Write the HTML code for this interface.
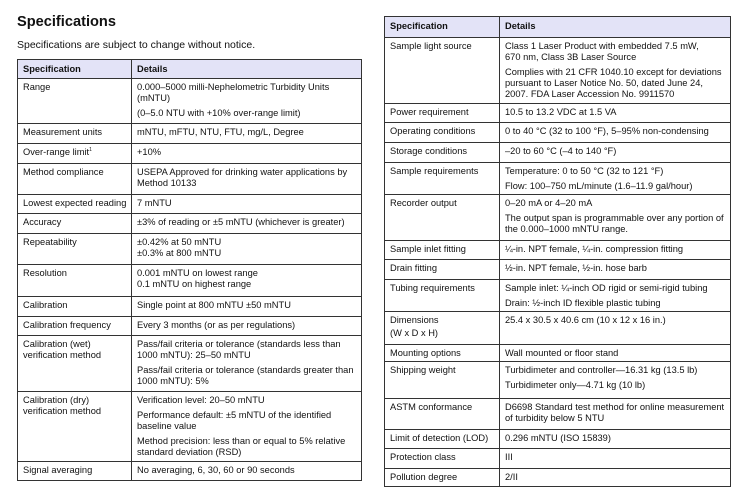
<!DOCTYPE html>
<html><head><style>
body{margin:0;width:733px;height:491px;background:#fff;font-family:"Liberation Sans",sans-serif;color:#111;position:relative;overflow:hidden}
h1{position:absolute;left:17px;top:14px;margin:0;font-size:14.6px;font-weight:bold}
.sub{position:absolute;left:17px;top:39px;font-size:10.5px}
table{position:absolute;border-collapse:collapse;table-layout:fixed;font-size:9.3px;line-height:11px;border:1.6px solid #222}
td{border:1px solid #333;vertical-align:top;padding:3px 4px 0 5px;overflow:hidden;white-space:nowrap}
tr.h td{background:#e3e3f7;font-weight:bold;padding-top:4px}
p{margin:0 0 4px 0}
p:last-child{margin-bottom:0}
</style></head><body>
<h1>Specifications</h1>
<div class="sub">Specifications are subject to change without notice.</div>

<table style="left:17px;top:59px;width:345px">
<colgroup><col style="width:114px"><col></colgroup>
<tr class="h" style="height:19px"><td>Specification</td><td>Details</td></tr>
<tr style="height:45px"><td>Range</td><td><p>0.000–5000 milli-Nephelometric Turbidity Units<br>(mNTU)</p><p>(0–5.0 NTU with +10% over-range limit)</p></td></tr>
<tr style="height:20px"><td>Measurement units</td><td>mNTU, mFTU, NTU, FTU, mg/L, Degree</td></tr>
<tr style="height:20px"><td>Over-range limit<sup style="font-size:5px;line-height:0">1</sup></td><td>+10%</td></tr>
<tr style="height:31px"><td>Method compliance</td><td>USEPA Approved for drinking water applications by<br>Method 10133</td></tr>
<tr style="height:19px"><td>Lowest expected reading</td><td>7 mNTU</td></tr>
<tr style="height:20px"><td>Accuracy</td><td>±3% of reading or ±5 mNTU (whichever is greater)</td></tr>
<tr style="height:31px"><td>Repeatability</td><td>±0.42% at 50 mNTU<br>±0.3% at 800 mNTU</td></tr>
<tr style="height:32px"><td>Resolution</td><td>0.001 mNTU on lowest range<br>0.1 mNTU on highest range</td></tr>
<tr style="height:20px"><td>Calibration</td><td>Single point at 800 mNTU ±50 mNTU</td></tr>
<tr style="height:19px"><td>Calibration frequency</td><td>Every 3 months (or as per regulations)</td></tr>
<tr style="height:56px"><td>Calibration (wet)<br>verification method</td><td><p>Pass/fail criteria or tolerance (standards less than<br>1000 mNTU): 25–50 mNTU</p><p>Pass/fail criteria or tolerance (standards greater than<br>1000 mNTU): 5%</p></td></tr>
<tr style="height:70px"><td>Calibration (dry)<br>verification method</td><td><p>Verification level: 20–50 mNTU</p><p>Performance default: ±5 mNTU of the identified<br>baseline value</p><p>Method precision: less than or equal to 5% relative<br>standard deviation (RSD)</p></td></tr>
<tr style="height:19px"><td>Signal averaging</td><td>No averaging, 6, 30, 60 or 90 seconds</td></tr>
</table>

<table style="left:384px;top:16px;width:347px">
<colgroup><col style="width:115px"><col></colgroup>
<tr class="h" style="height:21px"><td>Specification</td><td>Details</td></tr>
<tr style="height:66px"><td>Sample light source</td><td><p>Class 1 Laser Product with embedded 7.5 mW,<br>670 nm, Class 3B Laser Source</p><p>Complies with 21 CFR 1040.10 except for deviations<br>pursuant to Laser Notice No. 50, dated June 24,<br>2007. FDA Laser Accession No. 9911570</p></td></tr>
<tr style="height:19px"><td>Power requirement</td><td>10.5 to 13.2 VDC at 1.5 VA</td></tr>
<tr style="height:20px"><td>Operating conditions</td><td>0 to 40 °C (32 to 100 °F), 5–95% non-condensing</td></tr>
<tr style="height:20px"><td>Storage conditions</td><td>–20 to 60 °C (–4 to 140 °F)</td></tr>
<tr style="height:32px"><td>Sample requirements</td><td><p>Temperature: 0 to 50 °C (32 to 121 °F)</p><p>Flow: 100–750 mL/minute (1.6–11.9 gal/hour)</p></td></tr>
<tr style="height:46px"><td>Recorder output</td><td><p>0–20 mA or 4–20 mA</p><p>The output span is programmable over any portion of<br>the 0.000–1000 mNTU range.</p></td></tr>
<tr style="height:19px"><td>Sample inlet fitting</td><td>¼-in. NPT female, ¼-in. compression fitting</td></tr>
<tr style="height:20px"><td>Drain fitting</td><td>½-in. NPT female, ½-in. hose barb</td></tr>
<tr style="height:32px"><td>Tubing requirements</td><td><p>Sample inlet: ¼-inch OD rigid or semi-rigid tubing</p><p>Drain: ½-inch ID flexible plastic tubing</p></td></tr>
<tr style="height:33px"><td>Dimensions<br><span style="line-height:15px">(W x D x H)</span></td><td>25.4 x 30.5 x 40.6 cm (10 x 12 x 16 in.)</td></tr>
<tr style="height:17px"><td>Mounting options</td><td>Wall mounted or floor stand</td></tr>
<tr style="height:37px"><td>Shipping weight</td><td><p>Turbidimeter and controller—16.31 kg (13.5 lb)</p><p>Turbidimeter only—4.71 kg (10 lb)</p></td></tr>
<tr style="height:31px"><td>ASTM conformance</td><td>D6698 Standard test method for online measurement<br>of turbidity below 5 NTU</td></tr>
<tr style="height:19px"><td>Limit of detection (LOD)</td><td>0.296 mNTU (ISO 15839)</td></tr>
<tr style="height:20px"><td>Protection class</td><td>III</td></tr>
<tr style="height:18px"><td>Pollution degree</td><td>2/II</td></tr>
</table>
</body></html>
